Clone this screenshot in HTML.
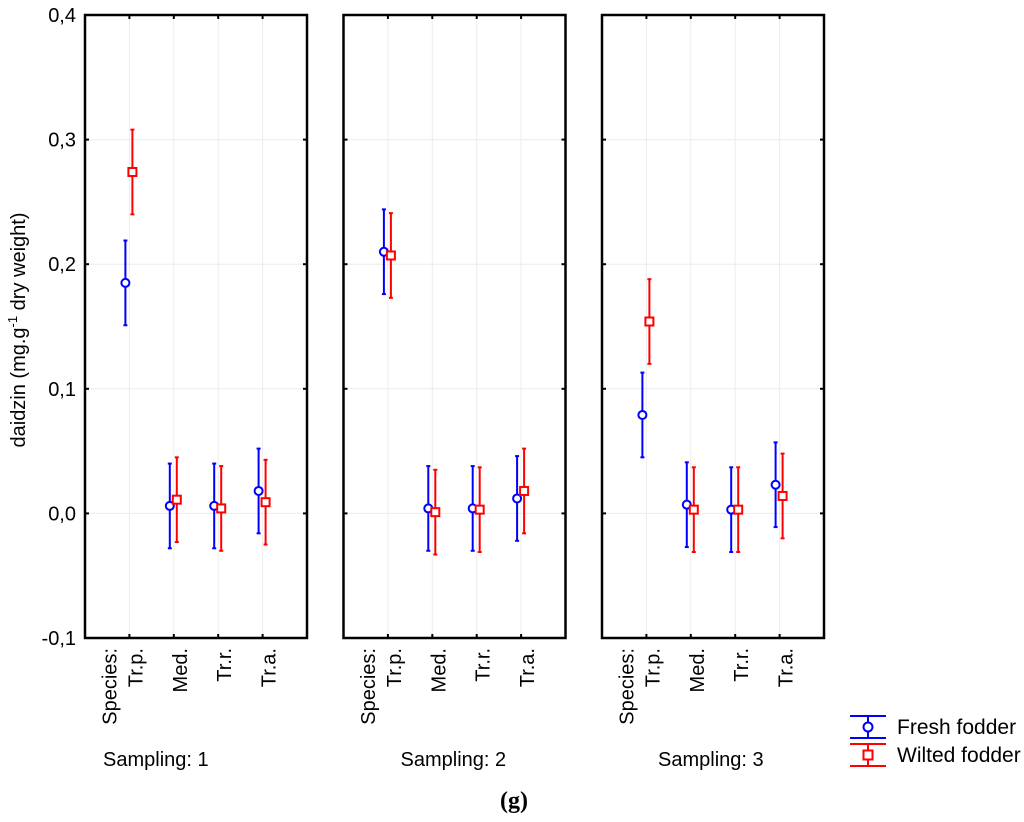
<!DOCTYPE html>
<html><head><meta charset="utf-8"><style>
body{margin:0;background:#fff}
svg text{font-family:"Liberation Sans",sans-serif;fill:#000}
</style></head><body>
<svg id="chart" width="1024" height="817" viewBox="0 0 1024 817" xmlns="http://www.w3.org/2000/svg">
<g id="g"></g>
</svg>
<script>
const categories=["Tr.p.","Med.","Tr.r.","Tr.a."];
const samplings=["1","2","3"];
const freshMean=[[0.185,0.006,0.006,0.018],[0.210,0.004,0.004,0.012],[0.079,0.007,0.003,0.023]];
const freshErr=[[0.034,0.034,0.034,0.034],[0.034,0.034,0.034,0.034],[0.034,0.034,0.034,0.034]];
const wiltedMean=[[0.274,0.011,0.004,0.009],[0.207,0.001,0.003,0.018],[0.154,0.003,0.003,0.014]];
const wiltedErr=[[0.034,0.034,0.034,0.034],[0.034,0.034,0.034,0.034],[0.034,0.034,0.034,0.034]];
const yTicks=[-0.1,0,0.1,0.2,0.3,0.4];
const yTickLabels=["-0,1","0,0","0,1","0,2","0,3","0,4"];

const NS="http://www.w3.org/2000/svg";
const g=document.getElementById('g');
function el(t,a,p){const e=document.createElementNS(NS,t);for(const k in a)e.setAttribute(k,a[k]);(p||g).appendChild(e);return e;}
const yTop=15,bot=638,yMin=-0.1,yMax=0.4;
const y=v=>bot-(v-yMin)/(yMax-yMin)*(bot-yTop);
const panelLeft=[85,343.5,602],pw=222;
const labelOffset=[18,57,56];
const x=(p,i)=>panelLeft[p]+pw*(i+1)/5;

yTicks.forEach((t,i)=>{
  const tx=el('text',{x:76,y:y(t)+7,'text-anchor':'end','font-size':20});
  tx.textContent=yTickLabels[i];
  
  
});
const yt=el('text',{x:0,y:0,transform:'translate(25,330) rotate(-90)','text-anchor':'middle','font-size':20});


yt.innerHTML='daidzin (mg.g<tspan dy="-8" font-size="13">-1</tspan><tspan dy="8"> dry weight)</tspan>';

samplings.forEach((s,p)=>{
  const pg=el('g',{});
  
  
  const L=panelLeft[p],R=L+pw;
  yTicks.forEach(t=>{
    el('line',{x1:L,x2:R,y1:y(t),y2:y(t),stroke:'#ececec','stroke-width':1},pg);
    el('line',{x1:L,x2:L+4,y1:y(t),y2:y(t),stroke:'#000','stroke-width':2},pg);
    el('line',{x1:R-4,x2:R,y1:y(t),y2:y(t),stroke:'#000','stroke-width':2},pg);
  });
  categories.forEach((c,i)=>{
    el('line',{x1:x(p,i),x2:x(p,i),y1:yTop,y2:bot,stroke:'#ececec','stroke-width':1},pg);
    el('line',{x1:x(p,i),x2:x(p,i),y1:yTop,y2:yTop+4,stroke:'#000','stroke-width':2},pg);
    el('line',{x1:x(p,i),x2:x(p,i),y1:bot-4,y2:bot,stroke:'#000','stroke-width':2},pg);
    const lt=el('text',{transform:`translate(${x(p,i)+13},648) rotate(-90)`,'text-anchor':'end','font-size':20},pg);
    lt.textContent=c;
    
    
  });
  const sp=el('text',{transform:`translate(${x(p,0)-13},648) rotate(-90)`,'text-anchor':'end','font-size':20},pg);
  sp.textContent='Species:';
  
  
  const fr=el('rect',{x:L,y:yTop,width:pw,height:bot-yTop,fill:'none',stroke:'#000','stroke-width':2.5},pg);
  
  
  const st=el('text',{x:L+labelOffset[p],y:766,'font-size':20},pg);
  st.textContent='Sampling: '+s;
  
  
  categories.forEach((c,i)=>{
    let cx=x(p,i)-4,m=freshMean[p][i],e=freshErr[p][i];
    const fg=el('g',{stroke:'#0000ff','stroke-width':2,fill:'none'},pg);
    
    
    el('line',{x1:cx,x2:cx,y1:y(m+e),y2:y(m-e)},fg);
    el('line',{x1:cx-2,x2:cx+2,y1:y(m+e),y2:y(m+e)},fg);
    el('line',{x1:cx-2,x2:cx+2,y1:y(m-e),y2:y(m-e)},fg);
    el('circle',{cx:cx,cy:y(m),r:4,fill:'#fff'},fg);
    cx=x(p,i)+3;m=wiltedMean[p][i];e=wiltedErr[p][i];
    const wg=el('g',{stroke:'#ff0000','stroke-width':2,fill:'none'},pg);
    
    
    el('line',{x1:cx,x2:cx,y1:y(m+e),y2:y(m-e)},wg);
    el('line',{x1:cx-2,x2:cx+2,y1:y(m+e),y2:y(m+e)},wg);
    el('line',{x1:cx-2,x2:cx+2,y1:y(m-e),y2:y(m-e)},wg);
    el('rect',{x:cx-4,y:y(m)-4,width:8,height:8,fill:'#fff'},wg);
  });
});

const lg=el('g',{});


[["Fresh fodder","#0000ff",727,'c'],["Wilted fodder","#ff0000",755,'s']].forEach(d=>{
  const e=el('g',{stroke:d[1],'stroke-width':2,fill:'none'},lg);
  
  
  const cy=d[2];
  el('line',{x1:850,x2:886,y1:cy-11,y2:cy-11},e);
  el('line',{x1:850,x2:886,y1:cy+11,y2:cy+11},e);
  el('line',{x1:868,x2:868,y1:cy-11,y2:cy+11},e);
  if(d[3]=='c')el('circle',{cx:868,cy:cy,r:4.5,fill:'#fff'},e);
  else el('rect',{x:863.5,y:cy-4.5,width:9,height:9,fill:'#fff'},e);
  const t=el('text',{x:897,y:cy+7,'font-size':21},lg);
  t.textContent=d[0];
});
const gl=el('text',{x:514,y:808,'text-anchor':'middle','font-size':24,'font-weight':'bold','style':'font-family:"Liberation Serif",serif'});
gl.textContent='(g)';


</script>
</body></html>
